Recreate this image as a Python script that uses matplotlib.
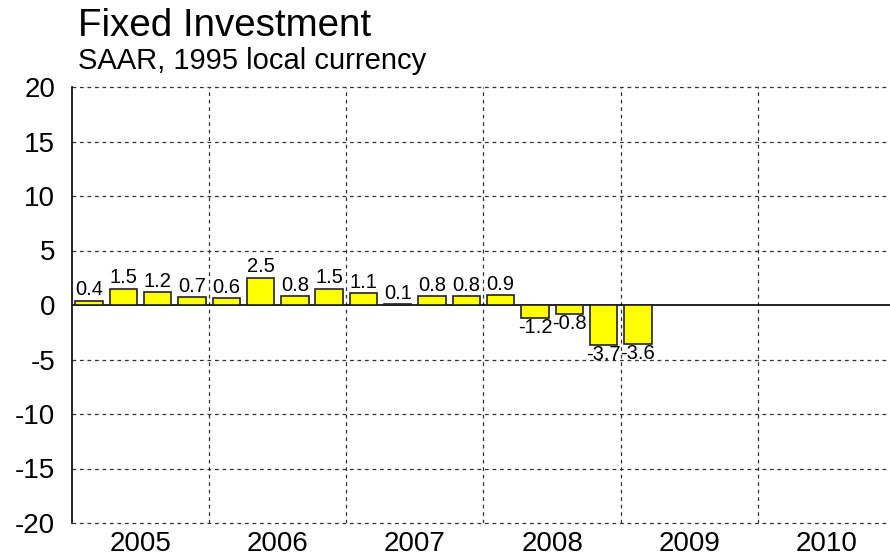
import matplotlib.pyplot as plt
import numpy as np

plt.rcParams['font.family'] = ['Liberation Sans', 'DejaVu Sans']

years = ['2005', '2006', '2007', '2008', '2009', '2010']
values = [0.4, 1.5, 1.2, 0.7, 0.6, 2.5, 0.8, 1.5, 1.1, 0.1, 0.8, 0.8, 0.9,
          -1.2, -0.8, -3.7, -3.6]
labels = ['0.4', '1.5', '1.2', '0.7', '0.6', '2.5', '0.8', '1.5', '1.1', '0.1',
          '0.8', '0.8', '0.9', '-1.2', '-0.8', '-3.7', '-3.6']
yticks = [-20, -15, -10, -5, 0, 5, 10, 15, 20]

fig = plt.figure(figsize=(8.9, 5.6), dpi=100)
ax = fig.add_axes([72/890, 37/560, 823/890, 436/560])

x = np.arange(len(values)) + 0.5
ax.bar(x, values, width=0.8, color='#ffff00', edgecolor='#222222', linewidth=1.2, zorder=3)
for xi, v, s in zip(x, values, labels):
    if v >= 0:
        ax.annotate(s, (xi, v), xytext=(0, 1), textcoords='offset points',
                    ha='center', va='bottom', fontsize=14.5, zorder=4)
    else:
        ax.annotate(s, (xi, v), xytext=(0, 0), textcoords='offset points',
                    ha='center', va='top', fontsize=14.5, zorder=4)

ax.set_xlim(0, 24)
ax.set_ylim(-20, 20)
ax.set_yticks(yticks)
ax.set_yticklabels([str(t) for t in yticks], fontsize=20)
ax.set_xticks([2 + 4*i for i in range(len(years))])
ax.set_xticklabels(years, fontsize=20)
ax.tick_params(axis='y', length=0, pad=12)
ax.tick_params(axis='x', length=0, pad=6)

for t in yticks:
    if t != 0:
        ax.axhline(t, color='#333333', linestyle=(0, (3, 3)), linewidth=0.9,
                   zorder=1, clip_on=False)
for b in range(4, 24, 4):
    ax.axvline(b, color='#333333', linestyle=(0, (3, 3)), linewidth=0.9, zorder=1)
ax.axhline(0, color='black', linewidth=1.2, zorder=2)

for s in ['top', 'right', 'bottom']:
    ax.spines[s].set_visible(False)
ax.spines['left'].set_linewidth(1.2)

fig.text(78/890, 1 - 36/560, 'Fixed Investment', fontsize=27.7, va='baseline')
fig.text(78/890, 1 - 69/560, 'SAAR, 1995 local currency', fontsize=21, va='baseline')

fig.savefig('out.png', dpi=100)
